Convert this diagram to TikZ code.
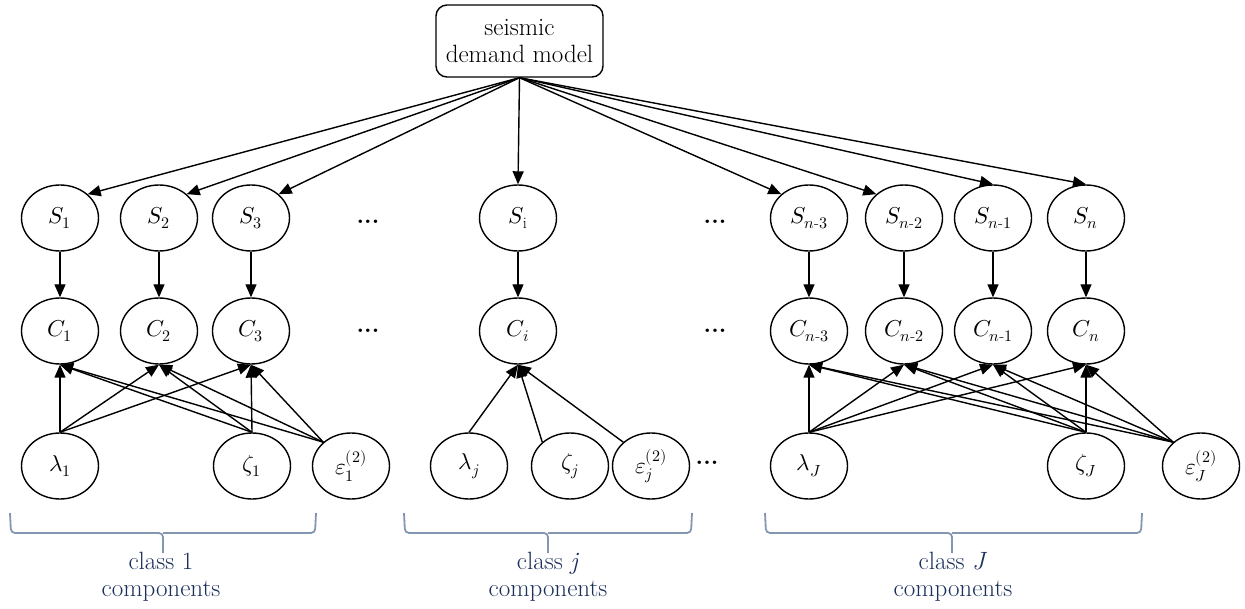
\documentclass[tikz,border=0pt]{standalone}
\usepackage{amsmath}
\usepackage{unicode-math}
\setmathfont{Latin Modern Math}
\usetikzlibrary{arrows.meta,shapes.geometric}
\definecolor{navy}{HTML}{1A2F5A}
\definecolor{bracecol}{HTML}{8497B0}
\begin{document}
\begin{tikzpicture}[x=1pt,y=-1pt,
  var/.style={ellipse,draw,line width=1.4pt,minimum width=77pt,minimum height=66pt,
              inner sep=0pt,font=\fontsize{23}{27}\selectfont},
  edge/.style={line width=1.4pt,-{Triangle[length=13pt,width=11pt]}},
  model/.style={draw,line width=1.4pt,rounded corners=11pt,minimum width=167pt,
                minimum height=72pt,align=center,font=\fontsize{25}{27}\selectfont},
  dots/.style={font=\fontsize{24}{28}\selectfont\bfseries,inner sep=0pt},
  bracket/.style={draw=bracecol,line width=1.8pt,rounded corners=4pt},
  classlabel/.style={text=navy,align=center,font=\fontsize{25}{27}\selectfont}]
\useasboundingbox (0,0) rectangle (1245,609);

% demand model
\node[model] (top) at (519.5,41) {seismic\\demand model};

% demand nodes
\node[var] (S1)  at (60,218)   {$S_1$};
\node[var] (S2)  at (159,218)  {$S_2$};
\node[var] (S3)  at (251,218)  {$S_3$};
\node[var] (Si)  at (518,218)  {$S_{\mathrm{i}}$};
\node[var] (Sn3) at (809,218)  {$S_{n\text{-}3}$};
\node[var] (Sn2) at (904,218)  {$S_{n\text{-}2}$};
\node[var] (Sn1) at (993,218)  {$S_{n\text{-}1}$};
\node[var] (Sn)  at (1086,218) {$S_n$};

% capacity nodes
\node[var] (C1)  at (60,331)   {$C_1$};
\node[var] (C2)  at (159,331)  {$C_2$};
\node[var] (C3)  at (251,331)  {$C_3$};
\node[var] (Ci)  at (518,331)  {$C_i$};
\node[var] (Cn3) at (809,331)  {$C_{n\text{-}3}$};
\node[var] (Cn2) at (904,331)  {$C_{n\text{-}2}$};
\node[var] (Cn1) at (993,331)  {$C_{n\text{-}1}$};
\node[var] (Cn)  at (1086,331) {$C_n$};

% class parameters
\node[var] (l1) at (60,466)   {$\lambda_1$};
\node[var] (z1) at (252,466)  {$\zeta_1$};
\node[var] (e1) at (351,466)  {$\varepsilon_1^{(2)}$};
\node[var] (lj) at (469,466)  {$\lambda_j$};
\node[var] (zj) at (570,466)  {$\zeta_j$};
\node[var] (ej) at (651,466)  {$\varepsilon_j^{(2)}$};
\node[var] (lJ) at (809,466)  {$\lambda_J$};
\node[var] (zJ) at (1086,466) {$\zeta_J$};
\node[var] (eJ) at (1201,466) {$\varepsilon_J^{(2)}$};

% ellipsis marks
\node[dots] (d1) at (368,222) {...};
\node[dots] (d2) at (715,222) {...};
\node[dots] (d3) at (368,331) {...};
\node[dots] (d4) at (715,331) {...};
\node[dots] (d5) at (707,463) {...};

% demand model to demands
\draw[edge] (top.south) -- (S1.north east);
\draw[edge] (top.south) -- (S2.north east);
\draw[edge] (top.south) -- (S3.north east);
\draw[edge] (top.south) -- (Si.north);
\draw[edge] (top.south) -- (Sn3.north west);
\draw[edge] (top.south) -- (Sn2.north west);
\draw[edge] (top.south) -- (Sn1.north);
\draw[edge] (top.south) -- (Sn.north);

% demands to capacities
\foreach \k in {1,2,3,i,n3,n2,n1,n}
  \draw[edge] (S\k.south) -- (C\k.north);

% class 1 parameters
\foreach \c in {C1,C2,C3} {
  \draw[edge] (l1.north) -- (\c.south);
  \draw[edge] (z1.north) -- (\c.south);
  \draw[edge] (e1.north west) -- (\c.south);
}
% class j parameters
\draw[edge] (lj.north) -- (Ci.south);
\draw[edge] (zj.north west) -- (Ci.south);
\draw[edge] (ej.north west) -- (Ci.south);
% class J parameters
\foreach \c in {Cn3,Cn2,Cn1,Cn} {
  \draw[edge] (lJ.north) -- (\c.south);
  \draw[edge] (zJ.north) -- (\c.south);
  \draw[edge] (eJ.north west) -- (\c.south);
}

% class braces
\coordinate (b1) at (163,533);
\coordinate (bj) at (548,533);
\coordinate (bJ) at (952,533);
\draw[bracket] (10,513) -- (11,533) -- (b1) -- (163,553);
\draw[bracket] (316,513) -- (315,533) -- (b1);
\draw[bracket] (404,513) -- (405,533) -- (bj) -- (548,553);
\draw[bracket] (692,513) -- (691,533) -- (bj);
\draw[bracket] (765,513) -- (766,533) -- (bJ) -- (952,553);
\draw[bracket] (1142,513) -- (1141,533) -- (bJ);

% class labels
\node[classlabel] (t1) at (161,577) {class 1\\components};
\node[classlabel] (tj) at (548,577) {class \textit{j}\\components};
\node[classlabel] (tJ) at (953,577) {class \textit{J}\\components};
\end{tikzpicture}
\end{document}
